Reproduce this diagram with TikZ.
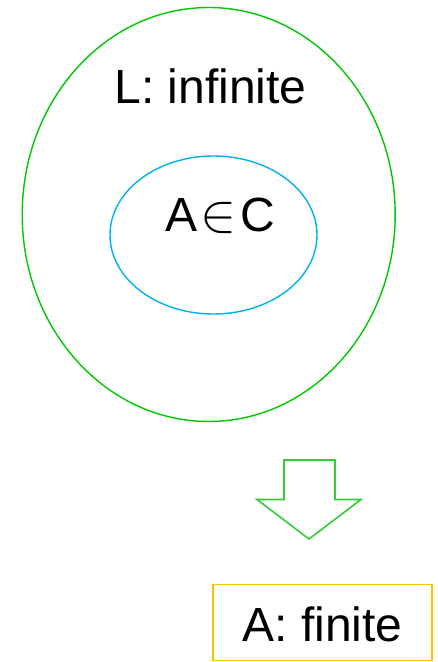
\documentclass[tikz,border=0pt]{standalone}
\usepackage{fontspec}
\usepackage{graphicx}
\setmainfont{Liberation Sans}
\definecolor{outergreen}{RGB}{0,200,0}
\definecolor{innerblue}{RGB}{0,176,240}
\definecolor{arrowgreen}{RGB}{51,204,51}
\definecolor{boxgold}{RGB}{255,192,0}
\begin{document}
\begin{tikzpicture}[x=1pt,y=-1pt,
  lbl/.style={font=\fontsize{48}{52}\selectfont, inner sep=0pt},
  setline/.style={line width=1.4pt}]
\useasboundingbox (0,0) rectangle (437,662);
% outer set
\draw[setline, outergreen] (208.7,214.5) ellipse [x radius=186.5, y radius=207];
\node[lbl] (L) at (210.5,86) {L: infinite};
% inner set
\draw[setline, innerblue] (213.5,235) ellipse [x radius=103.5, y radius=79];
\node[lbl] (AC) at (220,216) {A\hspace{3pt}\resizebox{36pt}{!}{$\in$}\hspace{4pt}C};
% block arrow
\draw[line width=1.6pt, arrowgreen, line join=miter]
  (284,460) -- (335,460) -- (335,499.5) -- (361,499.5) -- (309,539)
  -- (257,499.5) -- (284,499.5) -- cycle;
% result box
\node[draw=boxgold, line width=1.4pt, minimum width=219pt, minimum height=76pt,
  inner sep=0pt] (box) at (322.5,622.5) {};
\node[lbl] (fin) at ([yshift=-2pt]box.center) {A: finite};
\end{tikzpicture}
\end{document}
